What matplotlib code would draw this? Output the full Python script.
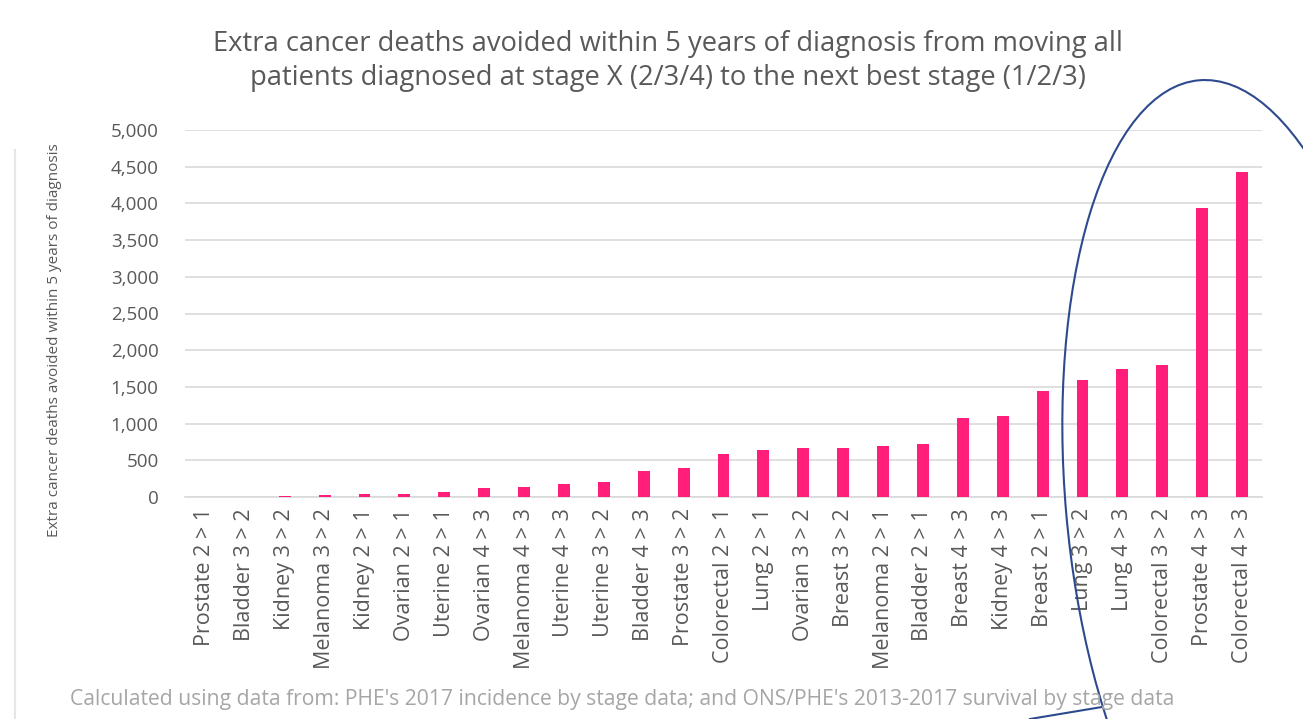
import matplotlib.pyplot as plt
from matplotlib.patches import Ellipse
from matplotlib.lines import Line2D
from matplotlib.ticker import FuncFormatter

plt.rcParams['font.family'] = ['Open Sans', 'DejaVu Sans']

categories = ['Prostate 2 > 1', 'Bladder 3 > 2', 'Kidney 3 > 2', 'Melanoma 3 > 2',
              'Kidney 2 > 1', 'Ovarian 2 > 1', 'Uterine 2 > 1', 'Ovarian 4 > 3',
              'Melanoma 4 > 3', 'Uterine 4 > 3', 'Uterine 3 > 2', 'Bladder 4 > 3',
              'Prostate 3 > 2', 'Colorectal 2 > 1', 'Lung 2 > 1', 'Ovarian 3 > 2',
              'Breast 3 > 2', 'Melanoma 2 > 1', 'Bladder 2 > 1', 'Breast 4 > 3',
              'Kidney 4 > 3', 'Breast 2 > 1', 'Lung 3 > 2', 'Lung 4 > 3',
              'Colorectal 3 > 2', 'Prostate 4 > 3', 'Colorectal 4 > 3']
deaths_avoided = [2, 4, 14, 34, 47, 46, 62, 118, 132, 172, 205, 360, 395, 580,
                  645, 668, 668, 695, 718, 1075, 1105, 1450, 1600, 1745, 1800,
                  3940, 4430]
y_ticks = [0, 500, 1000, 1500, 2000, 2500, 3000, 3500, 4000, 4500, 5000]

title = ('Extra cancer deaths avoided within 5 years of diagnosis from moving all\n'
         'patients diagnosed at stage X (2/3/4) to the next best stage (1/2/3)')
y_title = 'Extra cancer deaths avoided within 5 years of diagnosis'
source = ("Calculated using data from: PHE's 2017 incidence by stage data; "
          "and ONS/PHE's 2013-2017 survival by stage data")

W, H = 1303, 719
fig = plt.figure(figsize=(W / 100, H / 100), dpi=100)
ax = fig.add_axes([185 / W, 1 - 497 / H, (1262 - 185) / W, (497 - 130) / H])

x = range(len(categories))
ax.bar(x, deaths_avoided, width=0.3, color='#FF1F7A', zorder=3)

ax.set_xlim(-0.5, len(categories) - 0.5)
ax.set_ylim(0, 5000)
ax.set_yticks(y_ticks)
ax.yaxis.set_major_formatter(FuncFormatter(lambda v, p: f'{int(v):,}'))
ax.set_xticks(list(x))
ax.set_xticklabels(categories, rotation=90)
ax.tick_params(axis='y', length=0, pad=19, labelsize=13.5, labelcolor='#595959')
ax.tick_params(axis='x', length=0, pad=8, labelsize=15.5, labelcolor='#595959')
ax.grid(axis='y', color='#D9D9D9', linewidth=1.2, zorder=0)
for s in ['top', 'right', 'left']:
    ax.spines[s].set_visible(False)
ax.spines['bottom'].set_color('#D9D9D9')
ax.spines['bottom'].set_linewidth(1.2)

fig.text(668 / W, 1 - 61 / H, title, ha='center', va='center', fontsize=19.7,
         color='#595959', linespacing=1.3)
fig.text(55 / W, 1 - 340 / H, y_title, rotation=90, ha='center', va='center',
         fontsize=11, color='#595959')
fig.text(70 / W, 1 - 699 / H, source, ha='left', va='center', fontsize=15.2,
         color='#A6A6A6')

# slide border on the left
fig.add_artist(Line2D([15 / W, 15 / W], [0, 1 - 150 / H], color='#E6E6E6', linewidth=1.5))

# hand-drawn highlight around the biggest bars (pixel units via inches)
ell = Ellipse((1235.6 / 100, (H - 498.7) / 100), 3.4, 8.4, angle=5, fill=False,
              edgecolor='#2E4A8E', linewidth=1.5, transform=fig.dpi_scale_trans)
fig.add_artist(ell)
fig.add_artist(Line2D([1030 / W, 1102 / W], [1 - 719 / H, 1 - 707 / H],
                      color='#2E4A8E', linewidth=1.5))

fig.savefig('out.png', dpi=100)
